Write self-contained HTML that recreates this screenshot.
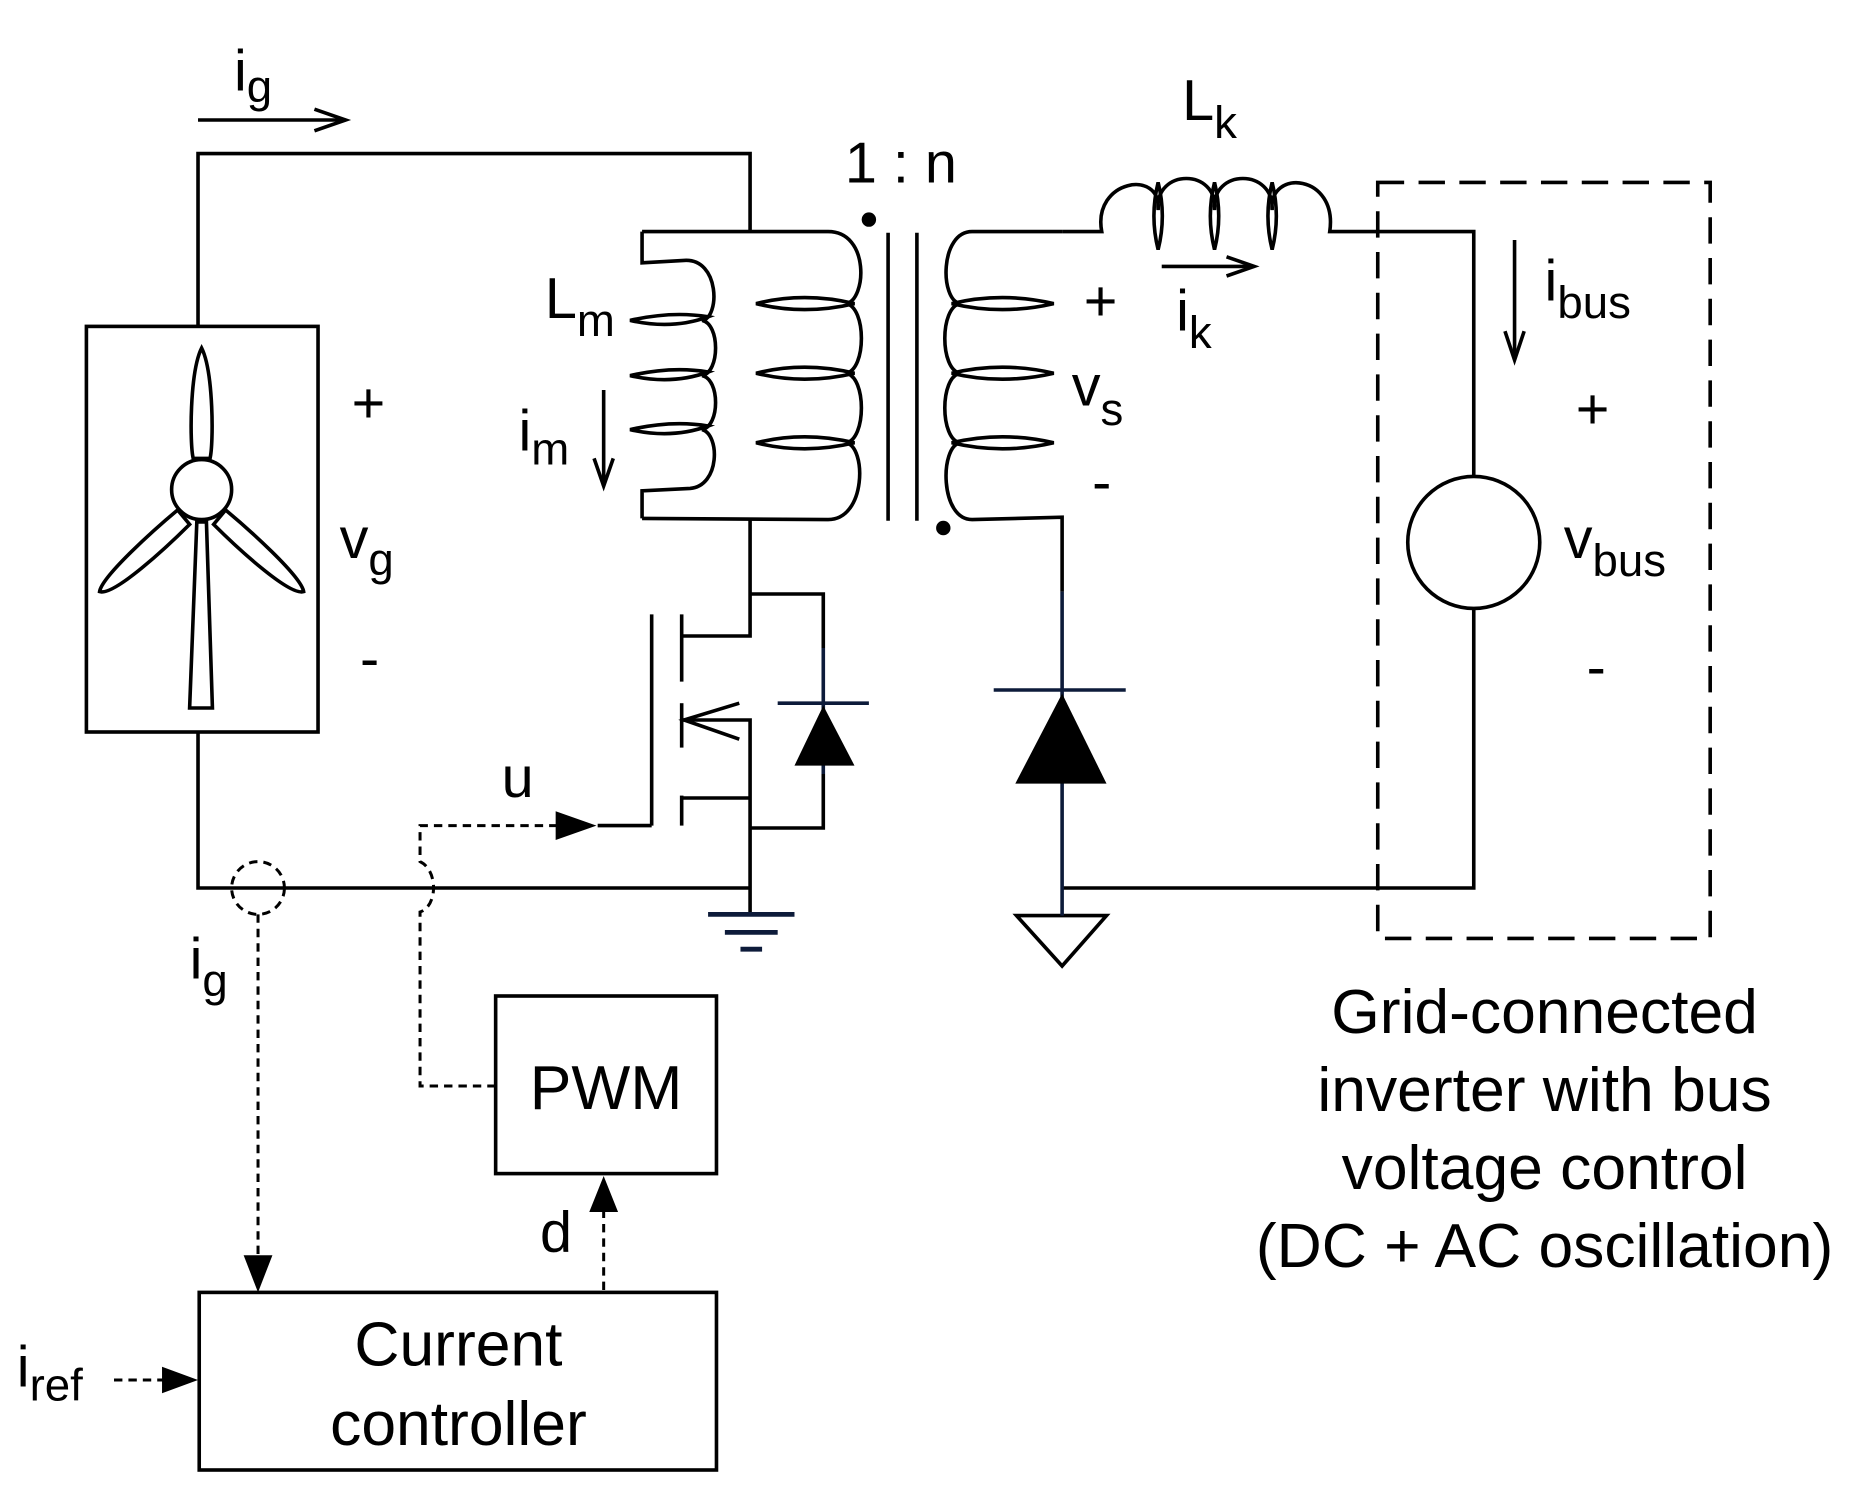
<!DOCTYPE html>
<html><head><style>html,body{margin:0;padding:0;background:#fff}svg{display:block}text{font-family:"Liberation Sans",sans-serif;fill:#000}</style></head>
<body>
<svg width="1871" height="1500" viewBox="0 0 1559 1250" preserveAspectRatio="none" xmlns="http://www.w3.org/2000/svg">
<g fill="none" stroke="#000" stroke-width="3">
<!-- left loop -->
<polyline points="165,272 165,128 625,128 625,193"/>
<polyline points="165,610 165,740 625,740"/>
<rect x="72" y="272" width="193" height="338"/>
<!-- windmill -->
<circle cx="168" cy="408" r="25"/>
<path d="M168,290 C178,310 178,370 175,382 L161,382 C158,370 158,310 168,290Z"/>
<path d="M164,435 L172,435 L177,590 L158,590Z"/>
<path d="M148,425 C130,440 85,480 83,493 C95,497 140,455 158,437Z"/>
<path d="M188,425 C206,440 251,480 253,493 C241,497 196,455 178,437Z"/>
<!-- ig arrow top -->
<line x1="165" y1="100" x2="288" y2="100"/><polyline points="262,91 288,100 262,109"/>
<!-- Lm coil -->
<path d="M535,193 L535,219 L570,217 C600,215 600,265 585,267 C600,270 600,310 585,313 C600,316 600,355 585,358 C600,362 600,405 575,407 L535,409 L535,432"/>
<path d="M525,267 Q560,259 590,264 Q560,275 525,267Z"/>
<path d="M525,313 Q560,305 590,310 Q560,321 525,313Z"/>
<path d="M525,358 Q560,350 590,355 Q560,366 525,358Z"/>
<!-- primary -->
<path d="M535,193 L690,193 C725,193 722,250 705,253 C722,256 722,308 705,311 C722,314 722,366 705,369 C722,372 722,433 690,433 L535,432"/>
<path d="M630,253 Q670,243 712,253 Q670,263 630,253Z"/>
<path d="M630,311 Q670,301 712,311 Q670,321 630,311Z"/>
<path d="M630,369 Q670,359 712,369 Q670,379 630,369Z"/>
<line x1="740" y1="194" x2="740" y2="434"/><line x1="764" y1="194" x2="764" y2="434"/>
<!-- secondary -->
<path d="M885,193 L810,193 C783,193 783,250 800,253 C783,256 783,308 800,311 C783,314 783,366 800,369 C783,372 783,433 810,433 L885,431 L885,493"/>
<path d="M793,253 Q835,243 878,253 Q835,263 793,253Z"/>
<path d="M793,311 Q835,301 878,311 Q835,321 793,311Z"/>
<path d="M793,369 Q835,359 878,369 Q835,379 793,369Z"/>
<!-- Lk -->
<path d="M885,193 L918,193 C910,150 968,140 965,175 C962,140 1015,140 1012,175 C1009,140 1062,140 1060,175 C1057,140 1115,145 1108,193 L1228,193 L1228,398"/>
<path d="M965,152 Q958,180 965,208 Q972,180 965,152Z"/>
<path d="M1012,152 Q1005,180 1012,208 Q1019,180 1012,152Z"/>
<path d="M1060,152 Q1053,180 1060,208 Q1067,180 1060,152Z"/>
<circle cx="1228" cy="452" r="55"/>
<polyline points="1228,507 1228,740 885,740"/>
<rect x="1148" y="152" width="277" height="630" stroke-dasharray="22,12"/>
<!-- arrows -->
<line x1="1262" y1="200" x2="1262" y2="300"/><polyline points="1254,276 1262,300 1270,276"/>
<line x1="968" y1="222" x2="1045" y2="222"/><polyline points="1022,214 1045,222 1022,230"/>
<line x1="503" y1="325" x2="503" y2="405"/><polyline points="495,382 503,405 511,382"/>
<!-- MOSFET -->
<polyline points="625,432 625,530 568,530"/>
<polyline points="625,495 686,495 686,540"/>
<polyline points="568,600 625,600 625,740"/>
<polyline points="568,665 625,665"/>
<polyline points="625,690 686,690 686,645"/>
<polyline points="616,586 570,600 616,616"/>
<line x1="543" y1="512" x2="543" y2="688"/>
<line x1="568" y1="512" x2="568" y2="568"/><line x1="568" y1="586" x2="568" y2="623"/><line x1="568" y1="663" x2="568" y2="688"/>
<line x1="498" y1="688" x2="543" y2="688"/>
<line x1="625" y1="740" x2="625" y2="762"/>
<path d="M847,763 L922,763 L885,805Z"/>
</g>
<g stroke="#0d1b3a" stroke-width="3" fill="none">
<line x1="686" y1="540" x2="686" y2="645"/>
<line x1="648" y1="586" x2="724" y2="586"/>
<line x1="885" y1="493" x2="885" y2="763"/>
<line x1="828" y1="575" x2="938" y2="575"/>
<line x1="590" y1="762" x2="662" y2="762" stroke-width="4"/>
<line x1="604" y1="777" x2="648" y2="777" stroke-width="4"/>
<line x1="617" y1="791" x2="635" y2="791" stroke-width="4"/>
</g>
<path d="M686,588 L712,638 L662,638Z" fill="#000"/>
<path d="M885,578 L922,653 L846,653Z" fill="#000"/>
<circle cx="724" cy="183" r="6" fill="#000"/><circle cx="786" cy="440" r="6" fill="#000"/>
<!-- dashed control -->
<g fill="none" stroke="#000" stroke-width="2.5" stroke-dasharray="7,5">
<circle cx="215" cy="740" r="22"/>
<line x1="215" y1="762" x2="215" y2="1050"/>
<path d="M413,905 L350,905 L350,760 C365,755 365,725 350,718 L350,688 L472,688"/>
<line x1="503" y1="1075" x2="503" y2="1005"/>
<line x1="95" y1="1150" x2="140" y2="1150"/>
</g>
<path d="M497,688 L463,676 L463,700Z" fill="#000"/>
<path d="M215,1077 L203,1046 L227,1046Z" fill="#000"/>
<path d="M503,980 L491,1010 L515,1010Z" fill="#000"/>
<path d="M165,1150 L135,1139 L135,1161Z" fill="#000"/>
<g fill="none" stroke="#000" stroke-width="3">
<rect x="413" y="830" width="184" height="148"/>
<rect x="166" y="1077" width="431" height="148"/>
</g>
<g font-size="48">
<text x="195" y="75">i<tspan font-size="38" dy="10">g</tspan></text>
<text x="293" y="352">+</text>
<text x="283" y="465">v<tspan font-size="38" dy="14">g</tspan></text>
<text x="300" y="565">-</text>
<text x="454" y="265">L<tspan font-size="38" dy="15">m</tspan></text>
<text x="432" y="375">i<tspan font-size="38" dy="12">m</tspan></text>
<text x="704" y="152">1 : n</text>
<text x="903" y="267">+</text>
<text x="893" y="338">v<tspan font-size="38" dy="16">s</tspan></text>
<text x="910" y="418">-</text>
<text x="985" y="100">L<tspan font-size="38" dy="15">k</tspan></text>
<text x="980" y="275">i<tspan font-size="38" dy="15">k</tspan></text>
<text x="1287" y="250">i<tspan font-size="38" dy="15">bus</tspan></text>
<text x="1313" y="357">+</text>
<text x="1303" y="465">v<tspan font-size="38" dy="15">bus</tspan></text>
<text x="1322" y="572">-</text>
<text x="418" y="664">u</text>
<text x="158" y="815">i<tspan font-size="38" dy="15">g</tspan></text>
<text x="450" y="1043">d</text>
<text x="14" y="1155">i<tspan font-size="38" dy="12">ref</tspan></text>
</g>
<g font-size="52" text-anchor="middle">
<text x="505" y="924">PWM</text>
<text x="382" y="1138">Current</text>
<text x="382" y="1204">controller</text>
<text x="1287" y="861">Grid-connected</text>
<text x="1287" y="926">inverter with bus</text>
<text x="1287" y="991">voltage control</text>
<text x="1287" y="1056">(DC + AC oscillation)</text>
</g>
</svg>
</body></html>
